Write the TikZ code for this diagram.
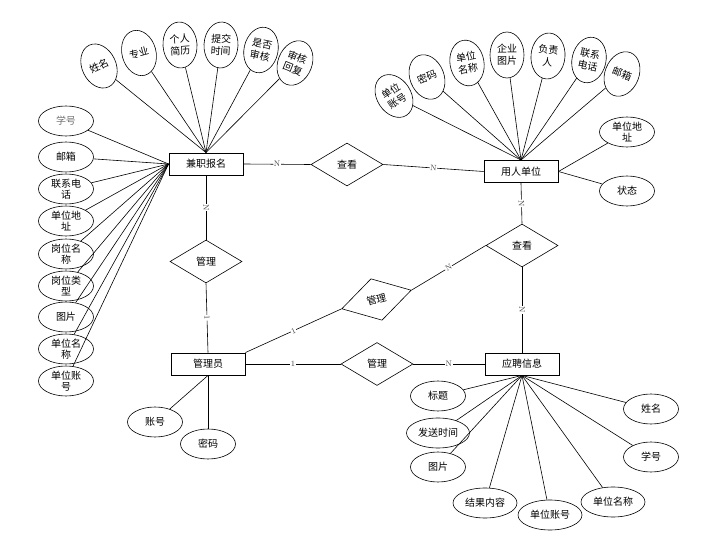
\documentclass[tikz,border=0pt]{standalone}
\usepackage{fontspec}
\newfontfamily\cjk{Noto Sans CJK SC}
\usetikzlibrary{shapes.geometric}
\begin{document}
\begin{tikzpicture}[x=1pt,y=-1pt,
  ent/.style={draw, line width=0.9pt, minimum width=74pt, minimum height=22pt, inner sep=0pt, font=\cjk\fontsize{10}{12}\selectfont},
  rel/.style={draw, diamond, line width=0.6pt, minimum width=72pt, minimum height=43pt, inner sep=0pt, font=\cjk\fontsize{10}{12}\selectfont},
  att/.style={draw, ellipse, line width=0.6pt, minimum width=55pt, minimum height=30pt, inner sep=0pt, align=center, font=\cjk\fontsize{10}{11.5}\selectfont},
  tatt/.style={draw, ellipse, line width=0.6pt, minimum width=34pt, minimum height=46pt, inner sep=0pt, align=center, font=\cjk\fontsize{10}{12}\selectfont},
  lnk/.style={line width=0.6pt},
  card/.style={fill=white, inner sep=0.6pt, font=\fontsize{8}{8}\selectfont, sloped, text=black!75}
]
\useasboundingbox (0,0) rectangle (710,540);

% entities
\node[ent] (jz) at (206,164) {兼职报名};
\node[ent] (yr) at (521,171.5) {用人单位};
\node[ent] (gly) at (208,364) {管理员};
\node[ent] (yp) at (522,364) {应聘信息};

% relations
\node[rel] (ck1) at (347,164.5) {查看};
\node[rel] (gl1) at (206,261.5) {管理};
\node[rel] (ck2) at (522,245.5) {查看};
\node[rel, rotate=15] (gl2) at (376.5,299.5) {管理};
\node[rel] (gl3) at (377,364) {管理};

% relation lines
\draw[lnk] (jz.east) -- node[card]{N} (ck1.west);
\draw[lnk] (ck1.east) -- node[card]{N} (yr.west);
\draw[lnk] (jz.south) -- node[card]{N} (gl1.north);
\draw[lnk] (gl1.south) -- node[card]{1} (gly.north);
\draw[lnk] (yr.south) -- node[card]{N} (ck2.north);
\draw[lnk] (ck2.south) -- node[card]{N} (yp.north);
\draw[lnk] (ck2.west) -- node[card]{N} (gl2.east);
\draw[lnk] (gl2.west) -- node[card]{1} (gly.north east);
\draw[lnk] (gly.east) -- node[card]{1} (gl3.west);
\draw[lnk] (gl3.east) -- node[card]{N} (yp.west);

% 兼职报名 top attributes
\node[tatt, rotate=25] (t1) at (99,66) {姓名};
\node[tatt, rotate=15] (t2) at (139,53) {专业};
\node[tatt, rotate=4] (t3) at (180,45) {个人\\简历};
\node[tatt, rotate=-3] (t4) at (221,45) {提交\\时间};
\node[tatt, rotate=-12] (t5) at (261,50) {是否\\审核};
\node[tatt, rotate=-22] (t6) at (295,63) {审核\\回复};
\foreach \n in {t1,t2,t3,t4,t5,t6} \draw[lnk] (\n) -- (jz.north);

% 兼职报名 left attributes
\node[att, text=black!55] (l1) at (66,121) {学号};
\node[att] (l2) at (66,157) {邮箱};
\node[att] (l3) at (66,189) {联系电\\话};
\node[att] (l4) at (66,221) {单位地\\址};
\node[att] (l5) at (66,254) {岗位名\\称};
\node[att] (l6) at (66,286) {岗位类\\型};
\node[att] (l7) at (66,317) {图片};
\node[att] (l8) at (66,349) {单位名\\称};
\node[att] (l9) at (66,381) {单位账\\号};
\foreach \n in {l1,l2,l3,l4,l5,l6,l7,l8,l9} \draw[lnk] (\n) -- (jz.west);

% 用人单位 top attributes
\node[tatt, rotate=33] (u1) at (394,96) {单位\\账号};
\node[tatt, rotate=22] (u2) at (427,77) {密码};
\node[tatt, rotate=10] (u3) at (467,63) {单位\\名称};
\node[tatt, rotate=0] (u4) at (507,55) {企业\\图片};
\node[tatt, rotate=-5] (u5) at (548,56) {负责\\人};
\node[tatt, rotate=-12] (u6) at (589,60) {联系\\电话};
\node[tatt, rotate=-22] (u7) at (622,74) {邮箱};
\foreach \n in {u1,u2,u3,u4,u5,u6,u7} \draw[lnk] (\n) -- (yr.north);

% 用人单位 right attributes
\node[att] (ua) at (627,132) {单位地\\址};
\node[att] (us) at (627,191) {状态};
\draw[lnk] (yr.east) -- (ua);
\draw[lnk] (yr.east) -- (us);

% 应聘信息 attributes
\node[att] (b1) at (438,396) {标题};
\node[att, minimum width=63pt] (b2) at (438,433) {发送时间};
\node[att] (b3) at (438,467) {图片};
\node[att, minimum width=64pt] (b4) at (485,503) {结果内容};
\node[att, minimum width=64pt] (b5) at (550,515) {单位账号};
\node[att, minimum width=64pt] (b6) at (613,502) {单位名称};
\node[att] (b7) at (651,457) {学号};
\node[att] (b8) at (651,409) {姓名};
\foreach \n in {b1,b2,b3,b4,b5,b6,b7,b8} \draw[lnk] (\n) -- (yp.south);

% 管理员 attributes
\node[att] (g1) at (155,422) {账号};
\node[att] (g2) at (208,444) {密码};
\draw[lnk] (g1) -- (gly.south);
\draw[lnk] (g2) -- (gly.south);
\end{tikzpicture}
\end{document}
